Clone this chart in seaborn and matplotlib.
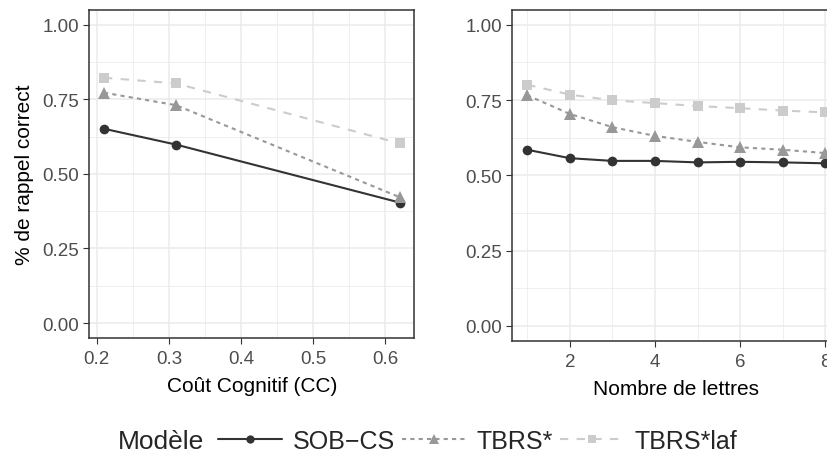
import numpy as np
import pandas as pd
import matplotlib
matplotlib.use("Agg")
import matplotlib.pyplot as plt
from matplotlib.ticker import MultipleLocator
import seaborn as sns

# ---- data ----
models = ["SOB\u2212CS", "TBRS*", "TBRS*laf"]
cc_values = [0.21, 0.31, 0.62]
cc_sob = [0.651, 0.598, 0.404]
cc_tbrs = [0.772, 0.730, 0.422]
cc_laf = [0.822, 0.803, 0.602]

n_letters = [1, 2, 3, 4, 5, 6, 7, 8]
nl_sob = [0.585, 0.557, 0.548, 0.548, 0.543, 0.545, 0.543, 0.540]
nl_tbrs = [0.766, 0.704, 0.660, 0.631, 0.611, 0.593, 0.585, 0.574]
nl_laf = [0.801, 0.768, 0.749, 0.740, 0.730, 0.723, 0.715, 0.709]

df_cc = pd.DataFrame({
    "x": cc_values * 3,
    "y": cc_sob + cc_tbrs + cc_laf,
    "Modèle": [m for m in models for _ in cc_values],
})
df_nl = pd.DataFrame({
    "x": n_letters * 3,
    "y": nl_sob + nl_tbrs + nl_laf,
    "Modèle": [m for m in models for _ in n_letters],
})

palette = {models[0]: "#333333", models[1]: "#989898", models[2]: "#CCCCCC"}
markers = {models[0]: "o", models[1]: "^", models[2]: "s"}
dashes = {models[0]: "", models[1]: (2, 2), models[2]: (4, 4)}

sns.set_theme(style="white")
plt.rcParams["font.family"] = ["Liberation Sans", "DejaVu Sans"]

fig = plt.figure(figsize=(8.28, 4.56), dpi=100)
W, H = 828, 456
ax1 = fig.add_axes([89.3 / W, (H - 339) / H, 325 / W, 328.3 / H])
ax2 = fig.add_axes([512.3 / W, (H - 342) / H, 328 / W, 331.3 / H])

for ax, df in [(ax1, df_cc), (ax2, df_nl)]:
    sns.lineplot(data=df, x="x", y="y", hue="Modèle", style="Modèle",
                 palette=palette, markers=markers, dashes=dashes,
                 markersize=7, markeredgewidth=0, linewidth=1.5, ax=ax,
                 legend=(ax is ax1))
    for ln in ax.lines:
        if ln.get_marker() == "^":
            ln.set_markersize(8.5)
    ax.set_ylim(-0.05, 1.05)
    ax.yaxis.set_major_locator(MultipleLocator(0.25))
    ax.yaxis.set_minor_locator(MultipleLocator(0.125))
    ax.yaxis.set_major_formatter(matplotlib.ticker.FormatStrFormatter("%.2f"))
    ax.grid(True, which="major", color="#EBEBEB", linewidth=1.1)
    ax.grid(True, which="minor", color="#EBEBEB", linewidth=0.55)
    ax.set_axisbelow(True)
    for s in ax.spines.values():
        s.set_color("#333333")
        s.set_linewidth(1.1)
    ax.tick_params(axis="both", which="major", length=4.3, width=0.8,
                   color="#333333", labelcolor="#4D4D4D", labelsize=13.5,
                   pad=3, bottom=True, left=True)
    ax.tick_params(axis="x", which="major", pad=4.5)
    ax.tick_params(axis="both", which="minor", length=0)
    ax.set_ylabel("% de rappel correct" if ax is ax1 else "", fontsize=15,
                  color="black", labelpad=6)

ax1.set_xlim(0.1895, 0.6405)
ax1.xaxis.set_major_locator(MultipleLocator(0.1))
ax1.xaxis.set_minor_locator(MultipleLocator(0.05))
ax1.xaxis.set_major_formatter(matplotlib.ticker.FormatStrFormatter("%.1f"))
ax1.set_xlabel("Coût Cognitif (CC)", fontsize=15, color="black", labelpad=6)

ax2.set_xlim(0.65, 8.35)
ax2.xaxis.set_major_locator(MultipleLocator(2))
ax2.xaxis.set_minor_locator(MultipleLocator(1))
ax2.set_xlabel("Nombre de lettres", fontsize=15, color="black", labelpad=6)

handles, labels = ax1.get_legend_handles_labels()
ax1.get_legend().remove()

fig.text(118 / W, 14 / H, "Modèle", fontsize=19, ha="left", va="center")
fig.legend(handles, labels, loc="center left", bbox_to_anchor=(218 / W, 14 / H),
           ncol=3, frameon=False, fontsize=18, handlelength=2.55,
           handletextpad=0.43, columnspacing=0.28, markerscale=0.85,
           borderaxespad=0, borderpad=0)

fig.savefig("out.png", dpi=100)
